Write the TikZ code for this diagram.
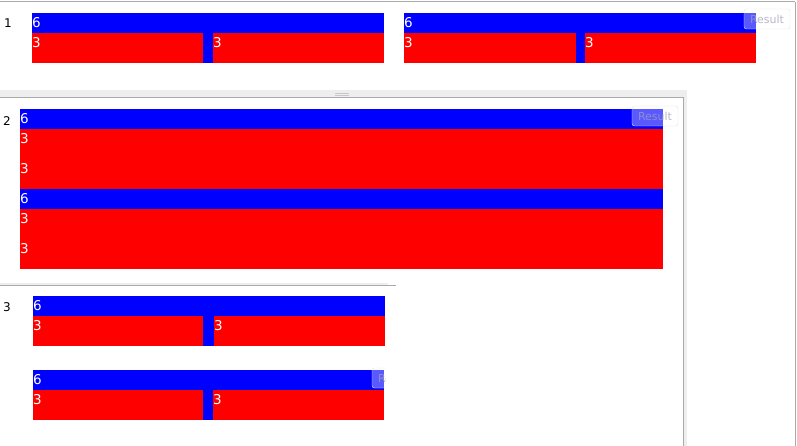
\documentclass[tikz,border=0pt]{standalone}
\usepackage{fontspec}
\setmainfont{DejaVu Sans}
\definecolor{pureblue}{RGB}{0,0,255}
\definecolor{purered}{RGB}{255,0,0}
\definecolor{framegray}{RGB}{170,170,170}
\definecolor{bandgray}{RGB}{238,238,238}
\definecolor{handlegray}{RGB}{200,200,200}
\definecolor{btnborder}{RGB}{230,230,235}
\definecolor{btntext}{RGB}{160,160,190}
\begin{document}
\begin{tikzpicture}[x=1pt,y=-1pt,
  bluebar/.style={fill=pureblue},
  redbar/.style={fill=purered},
  num/.style={text=white,font=\fontsize{13.5}{13.5}\selectfont,inner sep=0pt,anchor=west},
  rowlabel/.style={text=black,font=\fontsize{12}{12}\selectfont,inner sep=0pt},
  resultbtn/.style={draw=btnborder,fill=white,fill opacity=0.35,text opacity=0.75,
     rounded corners=2.5pt,text=btntext,font=\fontsize{11}{11}\selectfont,
     inner sep=0pt,minimum width=46pt,minimum height=20pt},
  frameline/.style={draw=framegray,line width=1pt},
  lightband/.style={fill=bandgray}
]
\useasboundingbox (0,0) rectangle (797,446);
\fill[white] (0,0) rectangle (797,446);

% ---- frames ----
\draw[frameline] (0,2) -- (795,2);
\draw[frameline] (795,2) -- (795,446);
\fill[lightband] (0,90) rectangle (687,97);
\draw[handlegray,line width=0.6pt] (335,93) -- (349,93) (335,95.2) -- (349,95.2);
\draw[frameline] (0,97.5) -- (684,97.5);
\fill[lightband] (684,97.5) rectangle (687,446);
\draw[frameline] (683.5,97.5) -- (683.5,446);
\fill[lightband] (0,282.5) rectangle (388,284.5);
\draw[frameline] (0,285) -- (396,285);

% ---- panel 1 ----
\node[rowlabel] (l1) at (8,23) {1};
\fill[bluebar] (32,13) rectangle (384,63);
\fill[redbar] (32,33) rectangle (203,63);
\fill[redbar] (213,33) rectangle (384,63);
\node[num] (a6) at (32,23) {6};
\node[num] (a3) at (32,43) {3};
\node[num] (a3b) at (213,43) {3};

\fill[bluebar] (404,13) rectangle (756,63);
\fill[redbar] (404,33) rectangle (576,63);
\fill[redbar] (585,33) rectangle (756,63);
\node[num] (b6) at (404,23) {6};
\node[num] (b3) at (404,43) {3};
\node[num] (b3b) at (585,43) {3};
\node[resultbtn] (r1) at (767,19) {Result};

% ---- panel 2 ----
\node[rowlabel] (l2) at (7,121) {2};
\fill[bluebar] (20,109) rectangle (663,129);
\fill[redbar] (20,129) rectangle (663,189);
\fill[bluebar] (20,189) rectangle (663,209);
\fill[redbar] (20,209) rectangle (663,269);
\node[num] (c6) at (20,119) {6};
\node[num] (c3) at (20,139) {3};
\node[num] (c3b) at (20,169) {3};
\node[num] (d6) at (20,199) {6};
\node[num] (d3) at (20,219) {3};
\node[num] (d3b) at (20,249) {3};
\node[resultbtn] (r2) at (655,116) {Result};

% ---- panel 3 ----
\node[rowlabel] (l3) at (7,307) {3};
\fill[bluebar] (33,296) rectangle (385,346);
\fill[redbar] (33,316) rectangle (203,346);
\fill[redbar] (214,316) rectangle (385,346);
\node[num] (e6) at (33,306) {6};
\node[num] (e3) at (33,326) {3};
\node[num] (e3b) at (214,326) {3};

\fill[bluebar] (33,370) rectangle (384,420);
\fill[redbar] (33,390) rectangle (203,420);
\fill[redbar] (213,390) rectangle (384,420);
\node[num] (f6) at (33,380) {6};
\node[num] (f3) at (33,400) {3};
\node[num] (f3b) at (213,400) {3};
\begin{scope}
\clip (300,360) rectangle (385,395);
\node[resultbtn] (r3) at (395,378) {Result};
\end{scope}
\end{tikzpicture}
\end{document}
